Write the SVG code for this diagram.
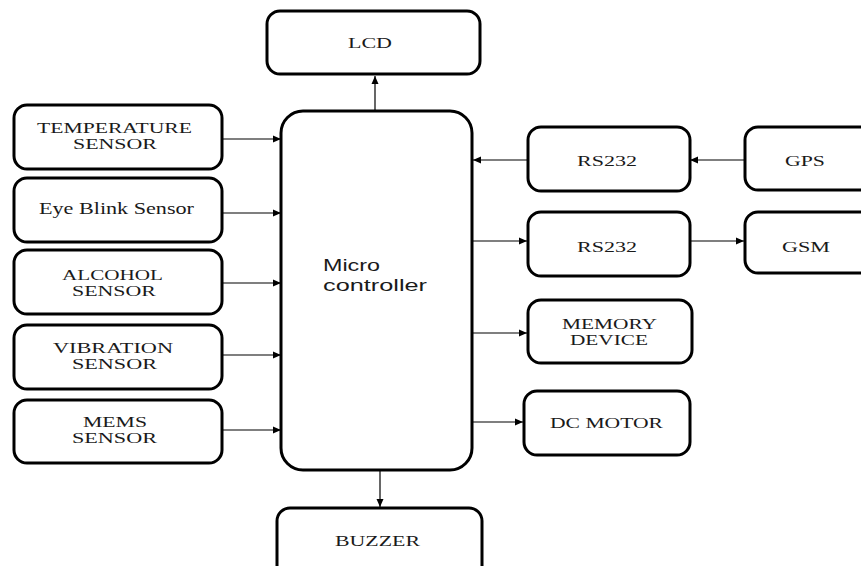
<svg xmlns="http://www.w3.org/2000/svg" width="861" height="566" viewBox="0 0 861 566">
<defs>
<style>
.box{fill:#fff;stroke:#000;stroke-width:3}
.t{font-family:"Liberation Serif","Times New Roman",serif;font-size:15px;fill:#1a1a1a;text-anchor:start}
.s{font-family:"Liberation Sans",Arial,sans-serif;font-size:16px;fill:#1a1a1a}
.c{stroke:#000;stroke-width:1.2;fill:none;marker-end:url(#ah)}
</style>
<marker id="ah" markerUnits="userSpaceOnUse" markerWidth="9" markerHeight="8" refX="8" refY="4" orient="auto">
<path d="M0,0.5 L8,4 L0,7.5 Z" fill="#000"/>
</marker>
</defs>
<rect width="861" height="566" fill="#fff"/>
<g id="connectors">
<line class="c" x1="375" y1="110" x2="375" y2="76"/>
<line class="c" x1="222" y1="139" x2="281" y2="139"/>
<line class="c" x1="222" y1="213" x2="281" y2="213"/>
<line class="c" x1="222" y1="283" x2="281" y2="283"/>
<line class="c" x1="222" y1="355" x2="281" y2="355"/>
<line class="c" x1="222" y1="430" x2="281" y2="430"/>
<line class="c" x1="528" y1="160" x2="473" y2="160"/>
<line class="c" x1="745" y1="160" x2="690" y2="160"/>
<line class="c" x1="472" y1="241" x2="527" y2="241"/>
<line class="c" x1="690" y1="241" x2="744" y2="241"/>
<line class="c" x1="472" y1="333" x2="527" y2="333"/>
<line class="c" x1="472" y1="422" x2="523" y2="422"/>
<line class="c" x1="380" y1="470" x2="380" y2="507"/>
</g>
<g id="lcd"><rect class="box" x="267" y="11" width="213" height="63" rx="13"/><text class="t" x="348" y="48" textLength="44" lengthAdjust="spacingAndGlyphs">LCD</text></g>
<g id="mcu"><rect class="box" x="281" y="111" width="191" height="359" rx="22"/><text class="s" x="323" y="271" textLength="57" lengthAdjust="spacingAndGlyphs">Micro</text><text class="s" x="323" y="291" textLength="104" lengthAdjust="spacingAndGlyphs">controller</text></g>
<g id="temp"><rect class="box" x="14" y="105" width="208" height="64" rx="13"/><text class="t" x="37" y="133" textLength="155" lengthAdjust="spacingAndGlyphs">TEMPERATURE</text><text class="t" x="73" y="149" textLength="84" lengthAdjust="spacingAndGlyphs">SENSOR</text></g>
<g id="eye"><rect class="box" x="14" y="178" width="208" height="64" rx="13"/><text class="t" x="39" y="214" style="font-size:17px" textLength="155" lengthAdjust="spacingAndGlyphs">Eye Blink Sensor</text></g>
<g id="alcohol"><rect class="box" x="14" y="250" width="208" height="64" rx="13"/><text class="t" x="62" y="280" textLength="101" lengthAdjust="spacingAndGlyphs">ALCOHOL</text><text class="t" x="72" y="296" textLength="84" lengthAdjust="spacingAndGlyphs">SENSOR</text></g>
<g id="vibration"><rect class="box" x="14" y="325" width="208" height="64" rx="13"/><text class="t" x="53" y="353" textLength="120" lengthAdjust="spacingAndGlyphs">VIBRATION</text><text class="t" x="72" y="369" textLength="85" lengthAdjust="spacingAndGlyphs">SENSOR</text></g>
<g id="mems"><rect class="box" x="14" y="400" width="208" height="63" rx="13"/><text class="t" x="83" y="427" textLength="64" lengthAdjust="spacingAndGlyphs">MEMS</text><text class="t" x="72" y="443" textLength="85" lengthAdjust="spacingAndGlyphs">SENSOR</text></g>
<g id="rs232a"><rect class="box" x="528" y="127" width="162" height="64" rx="13"/><text class="t" x="577" y="166" textLength="60" lengthAdjust="spacingAndGlyphs">RS232</text></g>
<g id="gps"><rect class="box" x="745" y="127" width="130" height="63" rx="13"/><text class="t" x="785" y="166" textLength="40" lengthAdjust="spacingAndGlyphs">GPS</text></g>
<g id="rs232b"><rect class="box" x="528" y="212" width="162" height="64" rx="13"/><text class="t" x="577" y="252" textLength="60" lengthAdjust="spacingAndGlyphs">RS232</text></g>
<g id="gsm"><rect class="box" x="745" y="212" width="130" height="61" rx="13"/><text class="t" x="782" y="252" textLength="48" lengthAdjust="spacingAndGlyphs">GSM</text></g>
<g id="memory"><rect class="box" x="528" y="300" width="164" height="63" rx="13"/><text class="t" x="562" y="329" textLength="95" lengthAdjust="spacingAndGlyphs">MEMORY</text><text class="t" x="570" y="345" textLength="78" lengthAdjust="spacingAndGlyphs">DEVICE</text></g>
<g id="dcmotor"><rect class="box" x="524" y="391" width="166" height="64" rx="13"/><text class="t" x="550" y="428" textLength="113" lengthAdjust="spacingAndGlyphs">DC MOTOR</text></g>
<g id="buzzer"><rect class="box" x="277" y="508" width="205" height="75" rx="13"/><text class="t" x="335" y="546" textLength="85" lengthAdjust="spacingAndGlyphs">BUZZER</text></g>
</svg>
